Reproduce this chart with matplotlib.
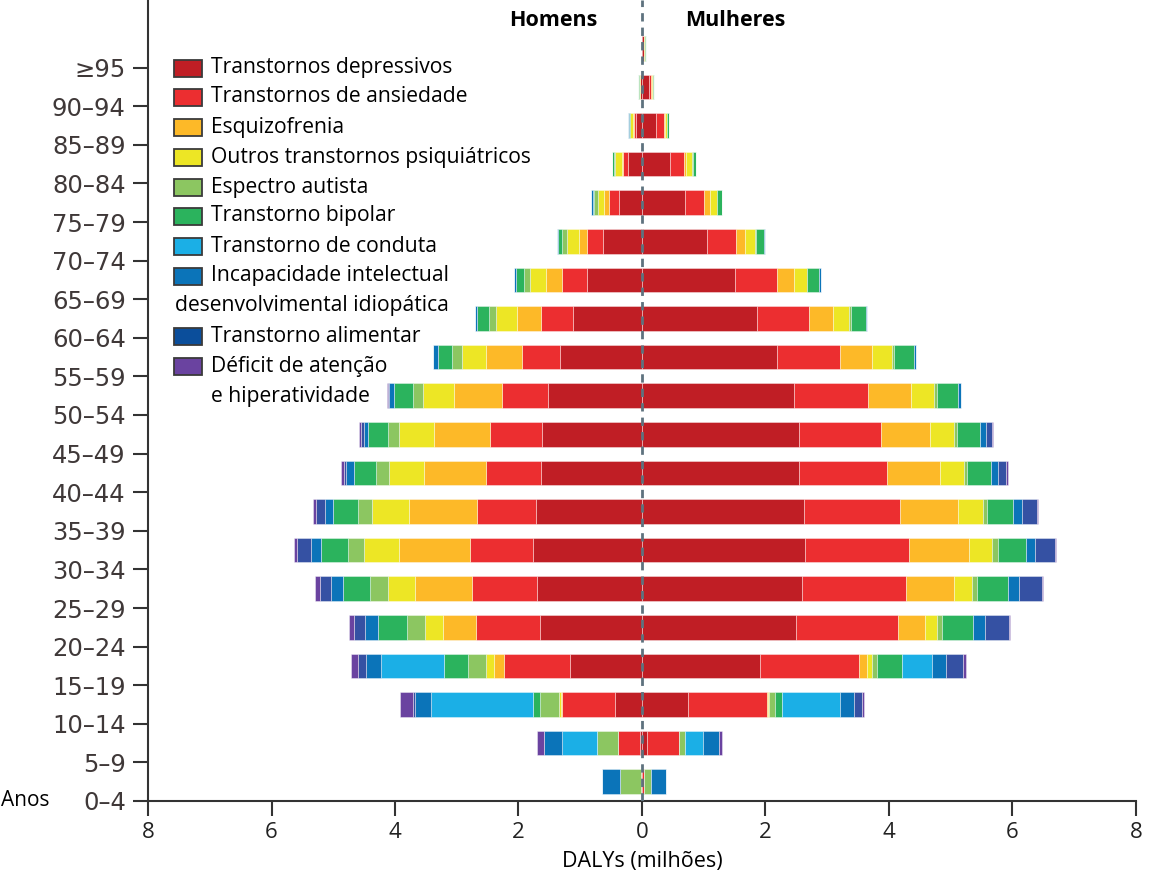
# Pirâmide de DALYs por transtornos mentais, homens x mulheres
import matplotlib
matplotlib.use("Agg")
import matplotlib.pyplot as plt
from matplotlib.patches import Rectangle
import numpy as np

W, H = 1150, 874

idades = ["0–4", "5–9", "10–14", "15–19", "20–24", "25–29", "30–34", "35–39",
          "40–44", "45–49", "50–54", "55–59", "60–64", "65–69", "70–74",
          "75–79", "80–84", "85–89", "90–94", "≥95"]

categorias = ["Transtornos depressivos", "Transtornos de ansiedade", "Esquizofrenia",
              "Outros transtornos psiquiátricos", "Espectro autista", "Transtorno bipolar",
              "Transtorno de conduta", "Incapacidade intelectual", "Transtorno alimentar",
              "Déficit de atenção"]
cores = ["#c01e25", "#ec2e30", "#fdb928", "#ede625", "#8cc661", "#2bb35d",
         "#1bafe6", "#0b74b9", "#3551a3", "#6a43a0"]
cores_legenda = ["#c01e25", "#ec2e30", "#fdb928", "#ede625", "#8cc661", "#2bb35d",
                 "#1bafe6", "#0b74b9", "#0b4e9b", "#6a43a0"]

# homens (milhões de DALYs), de 0-4 até >=95
dep_h = [0.00, 0.03, 0.43, 1.17, 1.65, 1.70, 1.76, 1.72, 1.64, 1.62, 1.53, 1.33, 1.12, 0.89, 0.63, 0.38, 0.22, 0.10, 0.03, 0.01]
ans_h = [0.02, 0.36, 0.87, 1.06, 1.04, 1.05, 1.03, 0.96, 0.88, 0.84, 0.74, 0.61, 0.51, 0.40, 0.26, 0.16, 0.08, 0.03, 0.01, 0.00]
esq_h = [0.00, 0.00, 0.01, 0.16, 0.53, 0.92, 1.14, 1.10, 1.01, 0.91, 0.77, 0.58, 0.40, 0.26, 0.13, 0.07, 0.03, 0.02, 0.00, 0.00]
out_h = [0.00, 0.00, 0.03, 0.13, 0.30, 0.45, 0.58, 0.60, 0.57, 0.56, 0.51, 0.40, 0.33, 0.27, 0.20, 0.11, 0.11, 0.04, 0.01, 0.00]
aut_h = [0.34, 0.34, 0.31, 0.29, 0.28, 0.28, 0.25, 0.22, 0.21, 0.18, 0.16, 0.15, 0.12, 0.09, 0.07, 0.05, 0.02, 0.01, 0.00, 0.00]
bip_h = [0.00, 0.00, 0.12, 0.39, 0.48, 0.45, 0.44, 0.40, 0.36, 0.32, 0.31, 0.24, 0.19, 0.13, 0.07, 0.03, 0.02, 0.01, 0.01, 0.00]
con_h = [0.00, 0.56, 1.64, 1.02, 0.00, 0.00, 0.00, 0.00, 0.00, 0.00, 0.00, 0.00, 0.00, 0.00, 0.00, 0.00, 0.00, 0.00, 0.00, 0.00]
int_h = [0.29, 0.29, 0.27, 0.25, 0.21, 0.18, 0.16, 0.13, 0.12, 0.08, 0.08, 0.07, 0.04, 0.04, 0.02, 0.02, 0.01, 0.01, 0.00, 0.00]
ali_h = [0.00, 0.00, 0.03, 0.13, 0.17, 0.19, 0.22, 0.15, 0.04, 0.04, 0.02, 0.00, 0.00, 0.00, 0.00, 0.00, 0.00, 0.00, 0.00, 0.00]
tdah_h = [0.00, 0.12, 0.21, 0.12, 0.09, 0.08, 0.05, 0.04, 0.04, 0.03, 0.01, 0.00, 0.00, 0.00, 0.00, 0.00, 0.00, 0.00, 0.00, 0.00]

# mulheres
dep_m = [0.00, 0.08, 0.75, 1.91, 2.50, 2.59, 2.64, 2.63, 2.54, 2.54, 2.46, 2.18, 1.87, 1.51, 1.05, 0.69, 0.46, 0.23, 0.11, 0.03]
ans_m = [0.03, 0.52, 1.28, 1.61, 1.65, 1.68, 1.68, 1.55, 1.43, 1.33, 1.20, 1.02, 0.84, 0.67, 0.47, 0.32, 0.22, 0.12, 0.04, 0.01]
esq_m = [0.00, 0.00, 0.01, 0.12, 0.43, 0.78, 0.97, 0.94, 0.85, 0.80, 0.70, 0.52, 0.38, 0.28, 0.15, 0.09, 0.03, 0.02, 0.01, 0.00]
out_m = [0.00, 0.00, 0.02, 0.08, 0.19, 0.29, 0.38, 0.40, 0.39, 0.38, 0.37, 0.33, 0.26, 0.21, 0.16, 0.11, 0.10, 0.03, 0.02, 0.01]
aut_m = [0.12, 0.10, 0.10, 0.08, 0.09, 0.09, 0.10, 0.07, 0.05, 0.05, 0.04, 0.03, 0.03, 0.01, 0.01, 0.00, 0.01, 0.01, 0.00, 0.00]
bip_m = [0.00, 0.00, 0.11, 0.41, 0.50, 0.49, 0.45, 0.42, 0.39, 0.37, 0.34, 0.33, 0.24, 0.19, 0.14, 0.08, 0.05, 0.03, 0.01, 0.01]
con_m = [0.00, 0.28, 0.93, 0.49, 0.00, 0.00, 0.00, 0.00, 0.00, 0.00, 0.00, 0.00, 0.00, 0.00, 0.00, 0.00, 0.00, 0.00, 0.00, 0.00]
int_m = [0.24, 0.26, 0.24, 0.23, 0.19, 0.18, 0.15, 0.14, 0.11, 0.10, 0.06, 0.03, 0.03, 0.03, 0.02, 0.01, 0.01, 0.00, 0.00, 0.00]
ali_m = [0.00, 0.00, 0.13, 0.27, 0.39, 0.38, 0.32, 0.24, 0.14, 0.10, 0.00, 0.00, 0.00, 0.00, 0.00, 0.00, 0.00, 0.00, 0.00, 0.00]
tdah_m = [0.00, 0.05, 0.03, 0.05, 0.02, 0.02, 0.02, 0.02, 0.02, 0.02, 0.00, 0.00, 0.00, 0.00, 0.00, 0.00, 0.00, 0.00, 0.00, 0.00]

homens = [dep_h, ans_h, esq_h, out_h, aut_h, bip_h, con_h, int_h, ali_h, tdah_h]
mulheres = [dep_m, ans_m, esq_m, out_m, aut_m, bip_m, con_m, int_m, ali_m, tdah_m]

fonte = ["Open Sans", "DejaVu Sans"]

fig = plt.figure(figsize=(W / 100, H / 100), dpi=100)
ax = fig.add_axes([148 / W, 73 / H, (1136 - 148) / W, 801 / H])

y = np.arange(len(idades)) + 0.5
alt = 0.64
cum_h = np.zeros(len(idades))
cum_m = np.zeros(len(idades))
for vh, vm, c in zip(homens, mulheres, cores):
    vh = np.array(vh)
    vm = np.array(vm)
    ax.barh(y, -vh, left=-cum_h, height=alt, color=c, edgecolor=(1, 1, 1, 0.45), linewidth=0.6)
    ax.barh(y, vm, left=cum_m, height=alt, color=c, edgecolor=(1, 1, 1, 0.45), linewidth=0.6)
    cum_h += vh
    cum_m += vm

ax.axvline(0, color="#5e727e", lw=2, ls=(0, (3, 2.2)), zorder=5)

ax.set_xlim(-8, 8)
ax.set_ylim(0, 801 / 38.6)
ax.set_xticks(np.arange(-8, 9, 2))
ax.set_xticklabels([str(abs(v)) for v in range(-8, 9, 2)], fontsize=16, color="#222222",
                   family=fonte)
ax.set_yticks(np.arange(len(idades)))
ax.set_yticklabels(idades, fontsize=17.5, color="#3f3838",
                   family=["Liberation Sans Narrow", "DejaVu Sans"])
ax.tick_params(axis="both", direction="out", length=11, width=1.5, color="#333333")
ax.tick_params(axis="y", pad=5)
ax.tick_params(axis="x", pad=4)
for s in ["top", "right"]:
    ax.spines[s].set_visible(False)
for s in ["left", "bottom"]:
    ax.spines[s].set_linewidth(1.5)
    ax.spines[s].set_color("#333333")

ax.set_xlabel("DALYs (milhões)", fontsize=15.5, family=fonte, labelpad=6)

fig.text(553 / W, 1 - 20 / H, "Homens", ha="center", va="center", fontsize=15.5,
         fontweight="bold", family=fonte)
fig.text(735 / W, 1 - 20 / H, "Mulheres", ha="center", va="center", fontsize=15.5,
         fontweight="bold", family=fonte)
fig.text(1 / W, 1 - 801 / H, "Anos", ha="left", va="center", fontsize=15, family=fonte)

# legenda desenhada à mão (duas entradas quebram em duas linhas)
leg_y = [68, 97, 127, 157, 187, 216, 246, 276, 336, 367]
for lab, c, yy in zip(categorias, cores_legenda, leg_y):
    fig.patches.append(Rectangle((174 / W, 1 - (yy + 8.5) / H), 28 / W, 17 / H,
                                 transform=fig.transFigure, facecolor=c,
                                 edgecolor="#3a3a3a", lw=1.3))
    fig.text(211 / W, 1 - yy / H, lab, ha="left", va="center", fontsize=15.2, family=fonte)
fig.text(175 / W, 1 - 306 / H, "desenvolvimental idiopática", ha="left", va="center",
         fontsize=15.2, family=fonte)
fig.text(211 / W, 1 - 397 / H, "e hiperatividade", ha="left", va="center",
         fontsize=15.2, family=fonte)

fig.savefig("out.png", dpi=100)
